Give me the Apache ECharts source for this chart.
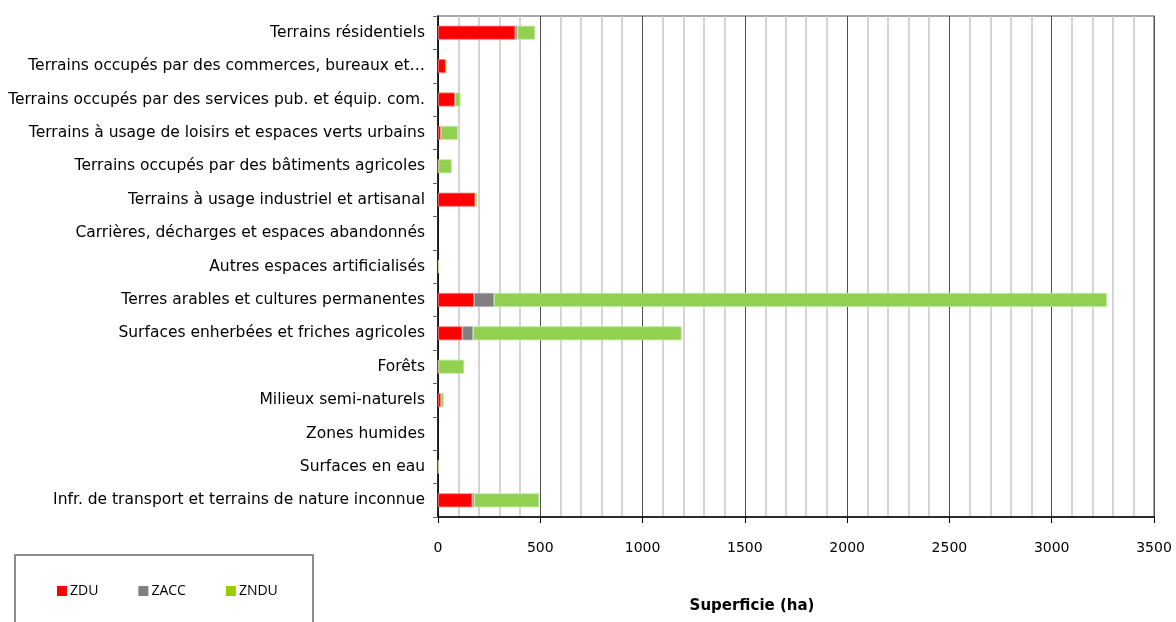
<!DOCTYPE html>
<html>
<head>
<meta charset="utf-8">
<script src="https://cdn.jsdelivr.net/npm/echarts@6/dist/echarts.min.js"></script>
<style>html,body{margin:0;padding:0;background:#fff;}#c{width:1176px;height:622px;}</style>
</head>
<body>
<div id="c"></div>
<script>
var categories = [
  "Terrains résidentiels",
  "Terrains occupés par des commerces, bureaux et…",
  "Terrains occupés par des services pub. et équip. com.",
  "Terrains à usage de loisirs et espaces verts urbains",
  "Terrains occupés par des bâtiments agricoles",
  "Terrains à usage industriel et artisanal",
  "Carrières, décharges et espaces abandonnés",
  "Autres espaces artificialisés",
  "Terres arables et cultures permanentes",
  "Surfaces enherbées et friches agricoles",
  "Forêts",
  "Milieux semi-naturels",
  "Zones humides",
  "Surfaces en eau",
  "Infr. de transport et terrains de nature inconnue"
];
var ZDU  = [378, 38, 83, 14, 2, 182, 0, 0, 176, 119, 2, 15, 0, 0, 168];
var ZACC = [10, 0, 0, 0, 0, 0, 0, 0, 98, 52, 0, 0, 0, 0, 9];
var ZNDU = [87, 6, 27, 83, 65, 10, 0, 5, 2996, 1020, 126, 13, 0, 3, 318];
var xTicks = { min: 0, max: 3500, interval: 500 };
var axisTitle = "Superficie (ha)";

function nz(arr) { return arr.map(function (v) { return v === 0 ? '-' : v; }); }

var chart = echarts.init(document.getElementById('c'));
var font = 'DejaVu Sans, Verdana, sans-serif';
chart.setOption({
  animation: false,
  backgroundColor: '#fff',
  grid: { left: 438, right: 22, top: 16, bottom: 105, show: true, borderColor: '#8c8c8c', borderWidth: 1.5 },
  xAxis: {
    type: 'value', min: xTicks.min, max: xTicks.max, interval: xTicks.interval,
    axisLine: { show: true, lineStyle: { color: '#000', width: 1.5 } },
    axisTick: { show: true, length: 6, lineStyle: { color: '#000' } },
    axisLabel: { color: '#000', fontFamily: font, fontSize: 14, margin: 24, formatter: function (v) { return String(v); } },
    splitLine: { show: true, lineStyle: { color: '#505050', width: 1 } },
    minorTick: { show: false, splitNumber: 5 },
    minorSplitLine: { show: true, lineStyle: { color: '#c6c6c6', width: 1.5 } }
  },
  yAxis: {
    type: 'category', data: categories, inverse: true,
    axisLine: { show: true, lineStyle: { color: '#000', width: 1.5 } },
    axisTick: { show: true, length: 5, lineStyle: { color: '#666' } },
    axisLabel: { color: '#000', fontFamily: font, fontSize: 15.5, margin: 13 },
    splitLine: { show: false }
  },
  legend: {
    left: 57, top: 584, padding: 0, itemWidth: 10, itemHeight: 10, itemGap: 40,
    icon: 'rect',
    itemStyle: { borderWidth: 0 },
    textStyle: { color: '#000', fontFamily: 'Open Sans, sans-serif', fontSize: 14, padding: [0, 0, 0, -2] },
    data: [
      { name: 'ZDU', itemStyle: { color: '#FF0000', borderWidth: 0 } },
      { name: 'ZACC', itemStyle: { color: '#808080', borderWidth: 0 } },
      { name: 'ZNDU', itemStyle: { color: '#99CC00', borderWidth: 0 } }
    ]
  },
  graphic: [
    { type: 'rect', shape: { x: 15, y: 555, width: 298, height: 80 }, style: { fill: 'none', stroke: '#8c8c8c', lineWidth: 2 }, z: -1 },
    { type: 'text', x: 752, y: 606, style: { text: axisTitle, fontFamily: font, fontSize: 15, fontWeight: 'bold', fill: '#000', textAlign: 'center', textVerticalAlign: 'middle' } }
  ],
  series: [
    { name: 'ZDU', type: 'bar', stack: 'a', data: nz(ZDU), barWidth: 14, itemStyle: { color: '#FF0000', borderColor: '#ff8080', borderWidth: 0.8 } },
    { name: 'ZACC', type: 'bar', stack: 'a', data: nz(ZACC), barWidth: 14, itemStyle: { color: '#808080', borderColor: '#b0b0b0', borderWidth: 0.8 } },
    { name: 'ZNDU', type: 'bar', stack: 'a', data: nz(ZNDU), barWidth: 14, itemStyle: { color: '#92D050', borderColor: '#c4e8a4', borderWidth: 0.8 } }
  ]
});
</script>
</body>
</html>
